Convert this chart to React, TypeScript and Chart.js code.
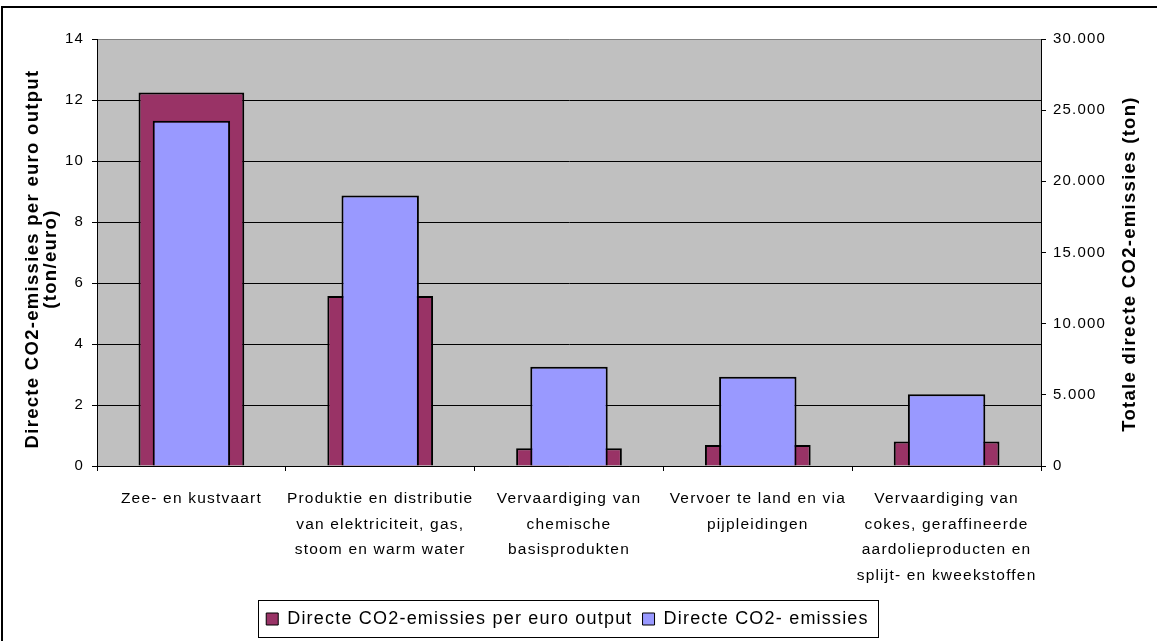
import React, { useEffect, useRef } from 'react';
import { Chart, registerables } from 'chart.js';

Chart.register(...registerables);

const categories: (string | string[])[] = [
  'Zee- en kustvaart',
  ['Produktie en distributie', 'van elektriciteit, gas,', 'stoom en warm water'],
  ['Vervaardiging van', 'chemische', 'basisprodukten'],
  ['Vervoer te land en via', 'pijpleidingen'],
  ['Vervaardiging van', 'cokes, geraffineerde', 'aardolieproducten en', 'splijt- en kweekstoffen'],
];

const intensityValues = [12.25, 5.57, 0.58, 0.69, 0.8];
const emissionValues = [24250, 19000, 6980, 6270, 5040];

const leftTicks = [0, 2, 4, 6, 8, 10, 12, 14];
const rightTicks = [0, 5000, 10000, 15000, 20000, 25000, 30000];

const seriesNames = ['Directe CO2-emissies per euro output', 'Directe CO2- emissies'];
const leftTitle = ['Directe CO2-emissies per euro output', '(ton/euro)'];
const rightTitle = 'Totale directe CO2-emissies (ton)';

const FONT = '"Liberation Sans", Arial, Helvetica, sans-serif';
const SPACING = '1.2px';

const fmtThousands = (v: number) => String(v).replace(/\B(?=(\d{3})+(?!\d))/g, '.');

const decorPlugin = {
  id: 'decor',
  beforeUpdate(chart: any) {
    chart.ctx.letterSpacing = SPACING;
  },
  beforeLayout(chart: any) {
    chart.ctx.letterSpacing = SPACING;
  },
  beforeDraw(chart: any) {
    const { ctx, chartArea: a } = chart;
    ctx.save();
    ctx.fillStyle = '#ffffff';
    ctx.fillRect(0, 0, chart.width, chart.height);
    // outer chart border
    ctx.fillStyle = '#000000';
    ctx.fillRect(1, 6, 2, chart.height);
    ctx.fillRect(1, 6, chart.width, 2);
    // plot area
    ctx.fillStyle = '#c0c0c0';
    ctx.fillRect(a.left, a.top, a.right - a.left, a.bottom - a.top);
    // legend frame
    const lg = chart.legend;
    if (lg && lg.lineWidths && lg.lineWidths.length) {
      const pad = lg.options.labels.padding;
      const W = lg.lineWidths[0];
      const start = (lg.left + pad + lg.right - W) / 2;
      const x0 = Math.round(start - 8) + 0.5;
      const x1 = Math.round(start + W - pad + 9) + 0.5;
      const y0 = Math.round(lg.top) + 0.5;
      ctx.fillStyle = '#ffffff';
      ctx.fillRect(x0, y0, x1 - x0, 37);
      ctx.strokeStyle = '#000000';
      ctx.lineWidth = 1;
      ctx.strokeRect(x0, y0, x1 - x0, 37);
    }
    ctx.restore();
    ctx.letterSpacing = SPACING;
  },
  afterDraw(chart: any) {
    const { ctx } = chart;
    ctx.save();
    ctx.letterSpacing = '1.3px';
    ctx.font = `bold 18.5px ${FONT}`;
    ctx.fillStyle = '#000000';
    ctx.textAlign = 'center';
    ctx.textBaseline = 'middle';
    // left axis title (two lines, reading bottom-to-top)
    ctx.save();
    ctx.translate(33, 259);
    ctx.rotate(-Math.PI / 2);
    ctx.fillText(leftTitle[0], 0, 0);
    ctx.fillText(leftTitle[1], 0, 17.5);
    ctx.restore();
    // right axis title
    ctx.save();
    ctx.translate(1130, 264);
    ctx.rotate(-Math.PI / 2);
    ctx.fillText(rightTitle, 0, 0);
    ctx.restore();
    ctx.restore();
  },
};

export default function App() {
  const ref = useRef<HTMLCanvasElement>(null);

  useEffect(() => {
    document.body.style.margin = '0';
    Chart.defaults.font.family = FONT;
    const canvas = ref.current;
    if (!canvas) return;
    const chart = new Chart(canvas, {
      type: 'bar',
      data: {
        labels: categories as any,
        datasets: [
          {
            label: seriesNames[0],
            data: intensityValues,
            yAxisID: 'y',
            backgroundColor: '#993366',
            borderColor: '#000000',
            borderWidth: 2,
            barPercentage: 0.56,
            categoryPercentage: 1,
            grouped: false,
            order: 1,
          } as any,
          {
            label: seriesNames[1],
            data: emissionValues,
            yAxisID: 'y1',
            backgroundColor: '#9999ff',
            borderColor: '#000000',
            borderWidth: 2,
            barPercentage: 0.41,
            categoryPercentage: 1,
            grouped: false,
            order: 0,
          } as any,
        ],
      },
      options: {
        responsive: false,
        animation: false,
        events: [],
        layout: { padding: { left: 0, right: 22, top: 39, bottom: 3 } },
        plugins: {
          tooltip: { enabled: false },
          legend: {
            position: 'bottom',
            maxHeight: 38,
            labels: {
              boxWidth: 12,
              boxHeight: 12,
              padding: 10,
              color: '#000000',
              font: { size: 18, family: FONT },
              sort: (a: any, b: any) => a.datasetIndex - b.datasetIndex,
              generateLabels: (chart: any) => {
                const items = Chart.defaults.plugins.legend.labels.generateLabels(chart);
                items.forEach((it: any) => { it.lineWidth = 1; });
                return items;
              },
            },
          } as any,
        },
        scales: {
          x: {
            type: 'category',
            offset: true,
            grid: {
              offset: true,
              drawOnChartArea: false,
              drawTicks: true,
              tickLength: 5,
              tickColor: '#000000',
            },
            border: { display: true, color: '#000000', width: 1 },
            ticks: {
              color: '#000000',
              font: { size: 15.5, family: FONT, lineHeight: 1.65 },
              maxRotation: 0,
              minRotation: 0,
              autoSkip: false,
              padding: 15,
            },
            afterFit: (s: any) => {
              s.height = 134;
            },
          },
          y: {
            type: 'linear',
            position: 'left',
            min: 0,
            max: 14,
            afterBuildTicks: (s: any) => {
              s.ticks = leftTicks.map((v) => ({ value: v }));
            },
            grid: {
              color: (c: any) => (c.tick && c.tick.value === 14 ? '#808080' : '#000000'),
              lineWidth: 1,
              drawTicks: true,
              tickLength: 5,
              tickColor: '#000000',
            },
            border: { display: true, color: '#000000', width: 1 },
            ticks: {
              color: '#000000',
              font: { size: 15, family: FONT },
              padding: 8,
            },
            afterFit: (s: any) => {
              s.width = 97;
            },
          },
          y1: {
            type: 'linear',
            position: 'right',
            min: 0,
            max: 30000,
            afterBuildTicks: (s: any) => {
              s.ticks = rightTicks.map((v) => ({ value: v }));
            },
            grid: {
              drawOnChartArea: false,
              drawTicks: true,
              tickLength: 5,
              tickColor: '#000000',
            },
            border: { display: true, color: '#000000', width: 1 },
            ticks: {
              color: '#000000',
              font: { size: 15, family: FONT },
              padding: 7,
              callback: (v: any) => fmtThousands(Number(v)),
            },
            afterFit: (s: any) => {
              s.width = 94;
            },
          },
        },
      } as any,
      plugins: [decorPlugin],
    });
    return () => chart.destroy();
  }, []);

  return (
    <div style={{ width: 1157, height: 641 }}>
      <canvas ref={ref} width={1157} height={641} style={{ display: 'block' }} />
    </div>
  );
}
